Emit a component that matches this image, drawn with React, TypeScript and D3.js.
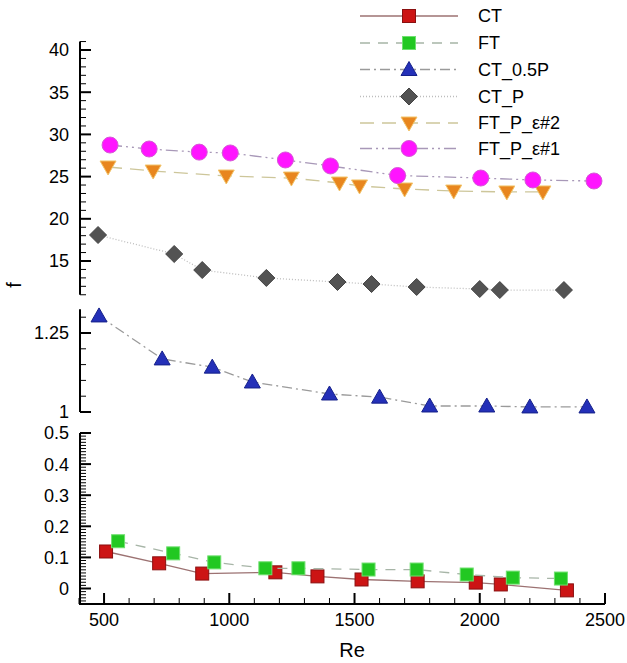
import React from "react";
import * as d3 from "d3";

const W = 627;
const H = 663;

// ---- data ----
const ctRe = [508, 720, 892, 1184, 1352, 1528, 1752, 1984, 2084, 2348];
const ctF = [0.119, 0.081, 0.048, 0.052, 0.039, 0.029, 0.023, 0.019, 0.013, -0.006];

const ftRe = [556, 776, 940, 1144, 1276, 1556, 1748, 1948, 2132, 2324];
const ftF = [0.152, 0.113, 0.084, 0.065, 0.065, 0.061, 0.061, 0.045, 0.035, 0.032];

const ct05Re = [480, 732, 932, 1092, 1400, 1600, 1800, 2028, 2200, 2428];
const ct05F = [1.304, 1.168, 1.142, 1.095, 1.057, 1.047, 1.019, 1.019, 1.016, 1.016];

const ctpRe = [476, 780, 892, 1148, 1432, 1568, 1748, 2000, 2080, 2336];
const ctpF = [18.08, 15.83, 13.93, 12.99, 12.51, 12.27, 11.92, 11.68, 11.56, 11.56];

const ftp2Re = [516, 696, 988, 1248, 1440, 1520, 1700, 1896, 2108, 2252];
const ftp2F = [26.14, 25.66, 25.07, 24.83, 24.24, 23.89, 23.53, 23.29, 23.18, 23.18];

const ftp1Re = [524, 680, 880, 1004, 1224, 1404, 1672, 2004, 2212, 2456];
const ftp1F = [28.74, 28.27, 27.9, 27.8, 26.97, 26.26, 25.13, 24.83, 24.6, 24.48];

const xTicks = [500, 1000, 1500, 2000, 2500];
const topTicks = [15, 20, 25, 30, 35, 40];
const midTicks = [1, 1.25];
const botTicks = [0, 0.1, 0.2, 0.3, 0.4, 0.5];

const legendNames = ["CT", "FT", "CT_0.5P", "CT_P", "FT_P_\u03b5#2", "FT_P_\u03b5#1"];

// ---- scales ----
const x = d3.scaleLinear().domain([400, 2500]).range([79, 605]);
const yTop = d3.scaleLinear().domain([15, 40]).range([261, 50]);
const yMid = d3.scaleLinear().domain([1, 1.25]).range([412, 333]);
const yBot = d3.scaleLinear().domain([0, 0.5]).range([588.5, 433]);

const panels = {
  top: { scale: yTop, lo: 11, hi: 41, major: topTicks, minorStep: 1, fmt: (v: number) => String(v) },
  mid: { scale: yMid, lo: 1, hi: 1.325, major: midTicks, minorStep: 0.05, fmt: (v: number) => String(v) },
  bot: { scale: yBot, lo: -0.05, hi: 0.5, major: botTicks, minorStep: 0.01, fmt: (v: number) => String(v) },
};

type Marker = "square" | "triUp" | "triDown" | "diamond" | "circle";

const series = [
  { re: ctRe, f: ctF, panel: "bot", marker: "square" as Marker, fill: "#cc1414", stroke: "#8a1010", line: "#9c7272", dash: "", lw: 1.3 },
  { re: ftRe, f: ftF, panel: "bot", marker: "square" as Marker, fill: "#22c822", stroke: "#6fe06f", line: "#a7b5a7", dash: "10,8", lw: 1.3 },
  { re: ct05Re, f: ct05F, panel: "mid", marker: "triUp" as Marker, fill: "#2430b8", stroke: "#15208a", line: "#9a9a9a", dash: "10,4,2,4", lw: 1.3 },
  { re: ctpRe, f: ctpF, panel: "top", marker: "diamond" as Marker, fill: "#535353", stroke: "#444444", line: "#bdbdbd", dash: "1,2", lw: 1.3 },
  { re: ftp2Re, f: ftp2F, panel: "top", marker: "triDown" as Marker, fill: "#e8861e", stroke: "#f2c46a", line: "#cdc69a", dash: "14,8", lw: 1.3 },
  { re: ftp1Re, f: ftp1F, panel: "top", marker: "circle" as Marker, fill: "#ff14ff", stroke: "#d659d6", line: "#a898b8", dash: "12,4,2,4,2,4", lw: 1.3 },
];

function MarkerShape({ type, cx, cy, fill, stroke }: { type: Marker; cx: number; cy: number; fill: string; stroke: string }) {
  const sw = 1;
  if (type === "square") return <rect x={cx - 6.5} y={cy - 6.5} width={13} height={13} fill={fill} stroke={stroke} strokeWidth={sw} />;
  if (type === "circle") return <circle cx={cx} cy={cy} r={8} fill={fill} stroke={stroke} strokeWidth={sw} />;
  if (type === "diamond")
    return <polygon points={`${cx},${cy - 8.5} ${cx + 8.5},${cy} ${cx},${cy + 8.5} ${cx - 8.5},${cy}`} fill={fill} stroke={stroke} strokeWidth={sw} />;
  if (type === "triUp")
    return <polygon points={`${cx},${cy - 8} ${cx + 8},${cy + 6} ${cx - 8},${cy + 6}`} fill={fill} stroke={stroke} strokeWidth={sw} />;
  return <polygon points={`${cx},${cy + 8} ${cx + 8},${cy - 6} ${cx - 8},${cy - 6}`} fill={fill} stroke={stroke} strokeWidth={sw} />;
}

function YAxis({ p }: { p: (typeof panels)["top"] }) {
  const ax = 80;
  const minors: number[] = [];
  const n = Math.round((p.hi - p.lo) / p.minorStep);
  for (let i = 0; i <= n; i++) {
    const v = +(p.lo + i * p.minorStep).toFixed(4);
    if (v > p.hi + 1e-9) break;
    if (p.major.some((m) => Math.abs(m - v) < 1e-9)) continue;
    minors.push(v);
  }
  return (
    <g>
      <line x1={ax} x2={ax} y1={p.scale(p.lo)} y2={p.scale(p.hi)} stroke="#000" strokeWidth={2} />
      {minors.map((v, i) => (
        <line key={"m" + i} x1={ax} x2={ax + 6} y1={p.scale(v)} y2={p.scale(v)} stroke="#000" strokeWidth={1} />
      ))}
      {p.major.map((v, i) => (
        <g key={"M" + i}>
          <line x1={ax} x2={ax + 11} y1={p.scale(v)} y2={p.scale(v)} stroke="#000" strokeWidth={2} />
          <text x={ax - 11} y={p.scale(v)} dy="0.36em" textAnchor="end" fontSize={18} fontFamily="Liberation Sans, Arial, sans-serif">
            {p.fmt(v)}
          </text>
        </g>
      ))}
    </g>
  );
}

export default function App() {
  const axisY = 604;
  const xMinors = d3.range(400, 2501, 100).filter((v) => v % 500 !== 0);
  const line = d3.line<[number, number]>().x((d) => d[0]).y((d) => d[1]);
  const legX1 = 360;
  const legX2 = 458;
  const legM = 409;
  const legRows = [16, 43, 69.5, 96.5, 123, 148.5];

  return (
    <svg width={W} height={H} style={{ position: "absolute", left: 0, top: 0, background: "#fff" }}>
      <rect x={0} y={0} width={W} height={H} fill="#fff" />
      {/* y axes */}
      <YAxis p={panels.top} />
      <YAxis p={panels.mid as any} />
      <YAxis p={panels.bot as any} />

      {/* x axis */}
      <line x1={79} x2={x(2500)} y1={axisY} y2={axisY} stroke="#000" strokeWidth={2} />
      {xMinors.map((v, i) => (
        <line key={"xm" + i} x1={x(v)} x2={x(v)} y1={axisY} y2={axisY - 6} stroke="#000" strokeWidth={1} />
      ))}
      {xTicks.map((v, i) => (
        <g key={"xt" + i}>
          <line x1={x(v)} x2={x(v)} y1={axisY} y2={axisY - 11} stroke="#000" strokeWidth={2} />
          <text x={x(v)} y={626} textAnchor="middle" fontSize={18} fontFamily="Liberation Sans, Arial, sans-serif">
            {v}
          </text>
        </g>
      ))}
      <text x={352} y={657} textAnchor="middle" fontSize={20} fontFamily="Liberation Sans, Arial, sans-serif">
        Re
      </text>
      <text transform="translate(21,285) rotate(-90)" textAnchor="middle" fontSize={20} fontFamily="Liberation Sans, Arial, sans-serif">
        f
      </text>

      {/* series */}
      {series.map((s, si) => {
        const sc = (panels as any)[s.panel].scale;
        const pts: [number, number][] = s.re.map((r, i) => [x(r), sc(s.f[i])]);
        return (
          <g key={"s" + si}>
            <path d={line(pts) || ""} fill="none" stroke={s.line} strokeWidth={s.lw} strokeDasharray={s.dash || undefined} />
            {pts.map((p, i) => (
              <MarkerShape key={i} type={s.marker} cx={p[0]} cy={p[1]} fill={s.fill} stroke={s.stroke} />
            ))}
          </g>
        );
      })}

      {/* legend */}
      {series.map((s, si) => (
        <g key={"l" + si}>
          <line x1={legX1} x2={legX2} y1={legRows[si]} y2={legRows[si]} stroke={s.line} strokeWidth={s.lw} strokeDasharray={s.dash || undefined} />
          <MarkerShape type={s.marker} cx={legM} cy={legRows[si]} fill={s.fill} stroke={s.stroke} />
          <text x={478} y={legRows[si]} dy="0.36em" fontSize={18} fontFamily="Liberation Sans, Arial, sans-serif">
            {legendNames[si]}
          </text>
        </g>
      ))}
    </svg>
  );
}
